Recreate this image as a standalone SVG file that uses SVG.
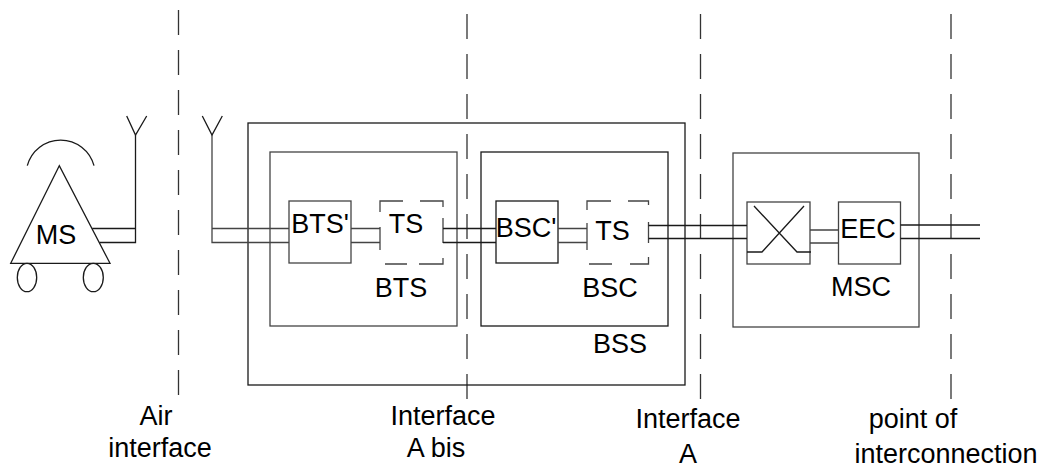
<svg xmlns="http://www.w3.org/2000/svg" width="1044" height="470" viewBox="0 0 1044 470">
<style>
.s{fill:none;stroke:#1a1a1a;stroke-width:1.3}
.g{fill:none;stroke:#444;stroke-width:1.3}
.d{fill:none;stroke:#333;stroke-width:1.3;stroke-dasharray:25 15}
text{font-family:"Liberation Sans",Arial,sans-serif;font-size:27px;fill:#000;text-anchor:middle}
</style>
<rect width="1044" height="470" fill="#fff"/>
<g id="interfaces">
<line class="d" x1="178.5" y1="10" x2="178.5" y2="398"/>
<line class="d" x1="467" y1="14" x2="467" y2="399"/>
<line class="d" x1="700.5" y1="14" x2="700.5" y2="399"/>
<line class="d" x1="951" y1="14" x2="951" y2="399"/>
<text x="156" y="425">Air</text>
<text x="160" y="457">interface</text>
<text x="443" y="425">Interface</text>
<text x="436" y="457">A bis</text>
<text x="688" y="428">Interface</text>
<text x="688" y="463">A</text>
<text x="913" y="428">point of</text>
<text x="946" y="463">interconnection</text>
</g>
<g id="MS">
<polygon class="s" points="59.3,165.7 10.7,263.3 110,263.3"/>
<path class="s" d="M27.3,165.7 A34.5,34.5 0 0 1 94,165.7"/>
<ellipse class="s" cx="27" cy="277.5" rx="9.7" ry="14.2"/>
<ellipse class="s" cx="93.3" cy="277.5" rx="10" ry="14.2"/>
<text x="56" y="244">MS</text>
</g>
<g id="antenna-ms">
<path class="s" d="M126.7,116 L135.5,135 L146.7,116"/>
</g>
<g id="antenna-bts">
<path class="s" d="M202.3,116 L212,135 L222.3,116"/>
</g>
<g id="BSS">
<rect class="s" x="248" y="123" width="437" height="262"/>
<text x="620" y="353">BSS</text>
</g>
<g id="BTS">
<rect class="g" x="270" y="152" width="187" height="174"/>
<text x="401" y="297">BTS</text>
</g>
<g id="BSC">
<rect class="s" x="481" y="152" width="187" height="174"/>
<text x="610" y="297">BSC</text>
</g>
<g id="MSC">
<rect class="g" x="733" y="153" width="186" height="174"/>
<text x="861" y="296">MSC</text>
</g>
<g id="BTS-prime">
<rect class="g" x="289" y="201" width="62" height="62"/>
<text x="320" y="233">BTS'</text>
</g>
<g id="TS-BTS">
<path class="g" d="M380,212 V201 H403 M420,201 H443 V207 M443,218 V243 M443,258 V264 H419 M407,264 H385 M380,250 V227"/>
<text x="406" y="233">TS</text>
</g>
<g id="BSC-prime">
<rect class="s" x="496" y="201" width="62" height="62"/>
<text x="526" y="236.5">BSC'</text>
</g>
<g id="TS-BSC">
<path class="g" d="M587,210 V201 H611 M628,201 H648.5 V205 M648.5,222 V243 M648.5,257 V264 H630 M612,264 H589 M587,223 V250"/>
<text x="612.5" y="240">TS</text>
</g>
<g id="switch">
<rect class="g" x="747" y="202" width="63" height="62"/>
<path class="s" d="M754,206 L797,252 H811 M804,206 L762,252 H747"/>
</g>
<g id="EEC">
<rect class="g" x="838.5" y="202" width="62" height="62"/>
<text x="868" y="237.5">EEC</text>
</g>
<g id="connectors">
<path class="s" d="M92.2,228.5 H135.5 M99.5,242.5 H135.5 V135"/>
<path class="g" d="M212,135 V242.5 H289 M212,228.5 H289"/>
<path class="g" d="M351,228.5 H380 M351,242.5 H380"/>
<path class="s" d="M443,228.5 H496 M443,242.5 H496"/>
<path class="g" d="M558,228.5 H587 M558,242.5 H587"/>
<path class="s" d="M648.5,225.5 H747 M648.5,238.5 H747"/>
<path class="g" d="M810,230 H838.5 M810,243 H838.5"/>
<path class="s" d="M900.5,225 H980 M900.5,238.5 H980"/>
</g>
</svg>
